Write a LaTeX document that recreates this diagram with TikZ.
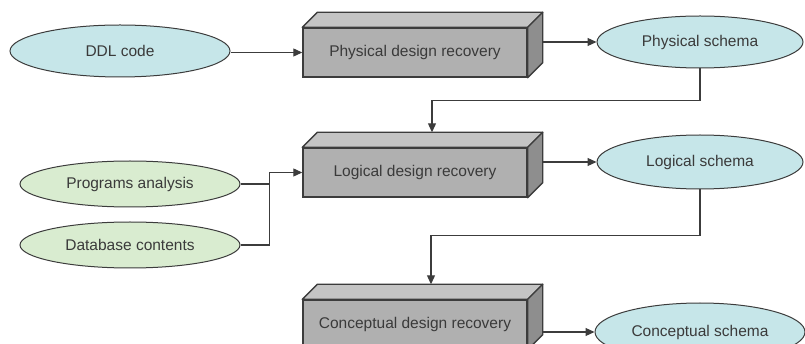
\documentclass[tikz,border=0pt]{standalone}
\usepackage{fontspec}
\setmainfont{Liberation Sans}
\usetikzlibrary{shapes.geometric,arrows.meta,calc}
\definecolor{boxfront}{HTML}{B0B0B0}
\definecolor{boxtop}{HTML}{C4C4C4}
\definecolor{boxside}{HTML}{8E8E8E}
\definecolor{edgec}{HTML}{3C3C3C}
\definecolor{blueell}{HTML}{C6E6E9}
\definecolor{greenell}{HTML}{D9ECD0}
\definecolor{txt}{HTML}{3A3A3A}
\tikzset{
  procbox/.style={draw=edgec, line width=1.4pt, fill=boxfront, minimum width=224pt, minimum height=49pt, inner sep=0pt, text=txt, font=\fontsize{15.5}{18}\selectfont},
  boxtopface/.style={draw=edgec, line width=1.4pt, fill=boxtop, line join=round},
  boxsideface/.style={draw=edgec, line width=1.4pt, fill=boxside, line join=round},
  blueellipse/.style={ellipse, draw=edgec, line width=1pt, fill=blueell, inner sep=0pt, text=txt, font=\fontsize{15.5}{18}\selectfont},
  greenellipse/.style={ellipse, draw=edgec, line width=1pt, fill=greenell, inner sep=0pt, text=txt, font=\fontsize{15.5}{18}\selectfont},
  conn/.style={draw=edgec, line width=1.1pt},
  arr/.style={conn, -{Triangle[length=9pt,width=8pt]}}
}
\newcommand{\threedbox}[1]{%
  \draw[boxtopface] (#1.north west) -- ++(15,-15) -- ($(#1.north east)+(15,-15)$) -- (#1.north east) -- cycle;
  \draw[boxsideface] (#1.north east) -- ++(15,-15) -- ($(#1.south east)+(15,-15)$) -- (#1.south east) -- cycle;
}
\begin{document}
\begin{tikzpicture}[x=1pt,y=-1pt]
\useasboundingbox (0,0) rectangle (805,344);

% process boxes
\node[procbox] (b1) at (415,52.5) {Physical design recovery};
\threedbox{b1}
\node[procbox] (b2) at (415,172.5) {Logical design recovery};
\threedbox{b2}
\node[procbox] (b3) at (415,324.5) {Conceptual design recovery};
\threedbox{b3}

% ellipses
\node[blueellipse, minimum width=220pt, minimum height=52pt] (ddl) at (120,51) {DDL code};
\node[blueellipse, minimum width=206pt, minimum height=52pt] (ps) at (700,42) {Physical schema};
\node[blueellipse, minimum width=206pt, minimum height=54pt] (ls) at (700,162) {Logical schema};
\node[blueellipse, minimum width=210pt, minimum height=58pt] (cs) at (700,332) {Conceptual schema};
\node[greenellipse, minimum width=220pt, minimum height=46pt] (pa) at (130,184) {Programs analysis};
\node[greenellipse, minimum width=220pt, minimum height=46pt] (db) at (130,245) {Database contents};

% helper coordinates
\coordinate (b1r) at ($(b1.east)+(15,0)$);
\coordinate (b2r) at ($(b2.east)+(15,0)$);
\coordinate (b3r) at ($(b3.east)+(15,0)$);
\coordinate (b2t) at ($(b2.north)+(17,-15)$);
\coordinate (b3t) at ($(b3.north)+(16,-15)$);
\coordinate (j) at ($(b2.west)+(-33,0)$);

% connectors
\draw[arr] (ddl.east |- b1.west) -- (b1.west);
\draw[arr] (b1r |- ps.west) -- (ps.west);
\draw[arr] (ps.south) -- ++(0,32) -| (b2t);
\draw[conn] (pa.east) -- (pa.east -| j);
\draw[arr] (db.east) -| (j) -- (b2.west);
\draw[arr] (b2r |- ls.west) -- (ls.west);
\draw[arr] (ls.south) -- ++(0,46) -| (b3t);
\draw[arr] (b3r |- cs.west) -- (cs.west);
\end{tikzpicture}
\end{document}
